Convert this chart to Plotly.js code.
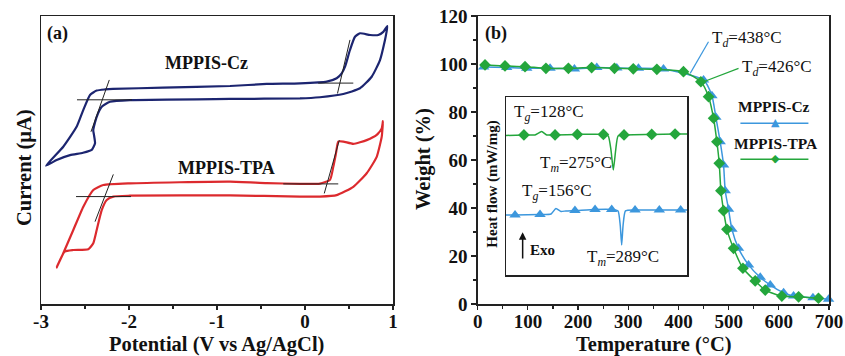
<!DOCTYPE html>
<html><head><meta charset="utf-8">
<script src="https://cdn.plot.ly/plotly-3.0.1.min.js"></script>
<style>html,body{margin:0;padding:0;background:#fff}#c{width:845px;height:356px}</style>
</head><body><div id="c"></div>
<script>
// ---- Panel (a): cyclic voltammograms (current in arbitrary units) ----
const cvCzV = [-2.943,-2.747,-2.594,-2.519,-2.443,-2.367,-2.273,-2.182,-1.614,-0.852,-0.435,-0.057,0.247,0.360,0.417,0.455,0.511,0.568,0.625,0.739,0.833,0.890,0.935,0.926,0.909,0.852,0.758,0.625,0.435,0.170,-0.057,-0.852,-1.989,-2.216,-2.310,-2.367,-2.406,-2.398,-2.386,-2.424,-2.523,-2.670,-2.822,-2.943];
const cvCzI = [48.0,54.6,61.6,67.4,72.6,74.1,74.5,74.7,75.1,75.7,76.4,76.6,77.2,78.4,80.1,82.4,88.2,92.8,94.0,93.4,93.4,94.5,96.5,94.4,91.7,84.7,78.9,74.9,72.9,71.8,71.4,71.2,70.8,70.2,68.5,65.0,60.4,58.7,55.8,53.5,52.5,51.7,50.0,48.0];
const cvTpaV = [-2.822,-2.747,-2.633,-2.519,-2.406,-2.292,-1.989,-0.852,-0.435,-0.057,0.170,0.284,0.322,0.352,0.378,0.435,0.549,0.701,0.815,0.872,0.886,0.881,0.872,0.815,0.701,0.549,0.360,0.170,-0.057,-0.852,-1.989,-2.178,-2.253,-2.310,-2.367,-2.406,-2.463,-2.633,-2.731,-2.822];
const cvTpaI = [12.7,17.6,25.7,33.8,39.6,41.3,41.9,42.5,42.0,41.7,41.8,43.1,47.7,52.3,56.4,56.4,55.6,56.9,58.7,61.0,63.5,61.1,58.1,51.1,45.4,40.7,37.8,37.3,37.3,37.7,37.6,37.3,36.1,32.6,25.7,21.1,19.0,18.75,18.2,12.7];
const tanCzV = [-2.591,-1.966,null,-2.224,-2.432,null,0.15,0.549,null,0.511,0.369];
const tanCzI = [70.9,70.9,null,77.8,59.8,null,76.7,76.7,null,91.7,73.1];
const tanTpaV = [-2.602,-1.977,null,-2.178,-2.386,null,-0.247,0.378,null,0.390,0.219];
const tanTpaI = [37.3,37.3,null,45.0,28.6,null,41.7,41.7,null,56.9,38.4];
const cvTicks = [-3,-2,-1,0,1];
const cvTickText = ['-3','-2','-1','0','1'];

// ---- Panel (b): TGA ----
const tgaCzT = [12,57.8,97.7,144.2,192.7,237.3,277.2,320.3,370.2,450,466.7,474.6,483.2,489.9,493.2,499.8,506.6,519.7,539.7,563,583,609.5,629.4,668,699.2];
const tgaCzW = [98.8,98.5,98.2,98.2,97.9,98.5,98.3,98.2,97.9,93.3,86.8,77.8,67.6,57.9,47.2,39.5,31.1,23.2,16.3,11.1,7.9,4.7,3.3,2.6,2.0];
const tgaTpaT = [14.6,54.4,94.3,136,180.7,227,272.5,310,357,410,444.7,460,470,476.6,481.3,484.6,489.9,496.6,509.8,528.5,553,573,606,639.4,679];
const tgaTpaW = [99.6,99.2,98.9,98.2,98.2,98.5,98.2,98.0,97.8,96.8,92.6,86.4,77.4,67.6,58.6,47.2,38.9,31.1,23.2,14.9,9.6,5.8,3.3,3.0,2.4];

// ---- Inset: DSC (arbitrary units) ----
const dscTpaX = [0,9.9,16.0,19.7,22.5,27.1,39.4,53.8,56.5,58.0,59.3,60.6,61.9,65.2,80.5,93.4,100];
const dscTpaY = [78.4,78.7,78.7,80.6,78.7,78.7,79.0,79.0,78.1,70.2,59.0,70.2,78.1,78.7,79.0,79.2,79.2];
const dscTpaMX = [9.9,27.1,39.4,53.8,65.2,80.5,93.4];
const dscTpaMY = [78.7,78.7,79.0,79.0,78.7,79.0,79.2];
const dscCzX = [0,5.0,18.8,24.9,27.6,30.4,33.1,38.1,49.2,58.4,61.9,63.1,63.9,64.7,66.0,71.3,84.7,96.5,100];
const dscCzY = [33.7,33.7,34.0,34.3,37.4,35.7,36.0,36.2,36.8,36.8,36.0,28.1,16.9,28.1,36.0,36.5,36.5,36.5,36.5];
const dscCzMX = [5.0,18.8,38.1,49.2,58.4,71.3,84.7,96.5];
const dscCzMY = [33.7,34.0,36.2,36.8,36.8,36.5,36.5,36.5];

const FF = '"Liberation Serif"';
const navy = '#1c2570', red = '#dc2a2e', blue = '#3c97dd', green = '#24a63c';

const traces = [
  {x: cvCzV, y: cvCzI, xaxis:'x', yaxis:'y', mode:'lines', line:{color:navy,width:2.2,shape:'spline',smoothing:0.5}, hoverinfo:'skip'},
  {x: cvTpaV, y: cvTpaI, xaxis:'x', yaxis:'y', mode:'lines', line:{color:red,width:2.2,shape:'spline',smoothing:0.5}, hoverinfo:'skip'},
  {x: tanCzV, y: tanCzI, xaxis:'x', yaxis:'y', mode:'lines', line:{color:'#222',width:1}},
  {x: tanTpaV, y: tanTpaI, xaxis:'x', yaxis:'y', mode:'lines', line:{color:'#222',width:1}},
  {x: tgaCzT, y: tgaCzW, xaxis:'x2', yaxis:'y2', mode:'lines+markers', cliponaxis:false, line:{color:blue,width:1.5,shape:'spline',smoothing:0.6}, marker:{symbol:'triangle-up',size:10,color:blue}},
  {x: tgaTpaT, y: tgaTpaW, xaxis:'x2', yaxis:'y2', mode:'lines+markers', cliponaxis:false, line:{color:green,width:1.5,shape:'spline',smoothing:0.6}, marker:{symbol:'diamond',size:9,color:green}},
  {x: dscTpaX, y: dscTpaY, xaxis:'x3', yaxis:'y3', mode:'lines', line:{color:green,width:1.5,shape:'spline',smoothing:0.5}},
  {x: dscTpaMX, y: dscTpaMY, xaxis:'x3', yaxis:'y3', mode:'markers', marker:{symbol:'diamond',size:9,color:green}},
  {x: dscCzX, y: dscCzY, xaxis:'x3', yaxis:'y3', mode:'lines', line:{color:blue,width:1.5,shape:'spline',smoothing:0.5}},
  {x: dscCzMX, y: dscCzMY, xaxis:'x3', yaxis:'y3', mode:'markers', marker:{symbol:'triangle-up',size:10,color:blue}}
];

const tickFont = {family:FF, size:19, color:'#111', weight:'bold'};
const axBase = {showgrid:false, zeroline:false, showline:true, linecolor:'#222', linewidth:1.5, mirror:true, tickfont:tickFont, tickcolor:'#222', tickwidth:1.2};

const ann = [];
function A(o){ ann.push(Object.assign({showarrow:false, xanchor:'center', yanchor:'middle', font:{family:FF,size:18,color:'#111',weight:'bold'}}, o)); }
const big = {family:FF,size:20.5,color:'#111',weight:'bold'};
// axis titles
A({xref:'paper',yref:'paper',x:24/845,y:1-168/356,text:'Current (μA)',textangle:-90,font:big});
A({xref:'paper',yref:'paper',x:216/845,y:1-344/356,text:'Potential (V vs Ag/AgCl)',font:big});
A({xref:'paper',yref:'paper',x:424/845,y:1-159/356,text:'Weight (%)',textangle:-90,font:big});
A({xref:'paper',yref:'paper',x:654/845,y:1-344/356,text:'Temperature (°C)',font:big});
// panel a labels
A({xref:'x',yref:'y',x:-2.955,y:94.0,xanchor:'left',text:'(a)'});
A({xref:'x',yref:'y',x:-1.125,y:83.6,text:'MPPIS-Cz'});
A({xref:'x',yref:'y',x:-0.89,y:47.1,text:'MPPIS-TPA'});
// panel b labels
A({xref:'x2',yref:'y2',x:10.6,y:112.9,xanchor:'left',text:'(b)'});
const reg = {family:FF,size:17,color:'#111'};
A({xref:'x2',yref:'y2',x:463,y:110.4,xanchor:'left',text:'T<sub><i>d</i></sub>=438°C',font:reg});
A({xref:'x2',yref:'y2',x:523,y:98.5,xanchor:'left',text:'T<sub><i>d</i></sub>=426°C',font:reg});
A({xref:'x2',yref:'y2',x:589.5,y:82.5,text:'MPPIS-Cz',font:{family:FF,size:15.5,color:'#111',weight:'bold'}});
A({xref:'x2',yref:'y2',x:595,y:67,text:'MPPIS-TPA',font:{family:FF,size:15.5,color:'#111',weight:'bold'}});
A({xref:'x2',yref:'y2',x:593,y:75.6,text:'▲',font:{family:'DejaVu Sans',size:11,color:blue}});
A({xref:'x2',yref:'y2',x:593,y:60.5,text:'◆',font:{family:'DejaVu Sans',size:11,color:green}});
// inset labels
A({xref:'x3',yref:'y3',x:3.1,y:90.8,xanchor:'left',text:'T<sub><i>g</i></sub>=128°C',font:reg});
A({xref:'x3',yref:'y3',x:17.8,y:62.4,xanchor:'left',text:'T<sub><i>m</i></sub>=275°C',font:reg});
A({xref:'x3',yref:'y3',x:7.7,y:46.8,xanchor:'left',text:'T<sub><i>g</i></sub>=156°C',font:reg});
A({xref:'x3',yref:'y3',x:43.6,y:9.4,xanchor:'left',text:'T<sub><i>m</i></sub>=289°C',font:reg});
A({xref:'x3',yref:'y3',x:20.4,y:14.0,text:'Exo',font:{family:FF,size:15,color:'#111',weight:'bold'}});
A({xref:'paper',yref:'paper',x:491.7/845,y:1-184/356,text:'Heat flow (mW/mg)',textangle:-90,font:{family:FF,size:15,color:'#111',weight:'bold'}});
ann.push({xref:'x3',yref:'y3',axref:'x3',ayref:'y3',x:9.2,y:24,ax:9.2,ay:8.4,text:'',showarrow:true,arrowhead:2,arrowsize:1,arrowwidth:1.5,arrowcolor:'#111'});

const shapes = [
  {type:'line',xref:'x2',yref:'y2',x0:423.4,y0:96.1,x1:459.9,y1:109.3,line:{color:blue,width:1.2}},
  {type:'line',xref:'x2',yref:'y2',x0:442.2,y0:92.0,x1:519.7,y1:98.2,line:{color:green,width:1.2}},
  {type:'line',xref:'x2',yref:'y2',x0:523.5,y0:75.3,x1:659,y1:75.3,line:{color:blue,width:1.5}},
  {type:'line',xref:'x2',yref:'y2',x0:523.5,y0:60.3,x1:659,y1:60.3,line:{color:green,width:1.5}}
];

const layout = {
  width:845, height:356, margin:{l:0,r:0,t:0,b:0}, showlegend:false,
  font:{family:FF},
  paper_bgcolor:'#fff', plot_bgcolor:'rgba(0,0,0,0)',
  xaxis: Object.assign({}, axBase, {domain:[41/845,393/845], range:[-3,1], anchor:'y', tickvals:cvTicks, ticktext:cvTickText, ticks:'outside', ticklen:4, ticklabelstandoff:-4, minor:{dtick:0.5, ticks:'outside', ticklen:3, tickcolor:'#222'}}),
  yaxis: Object.assign({}, axBase, {domain:[52/356,340/356], range:[0,100], anchor:'x', showticklabels:false, ticks:''}),
  xaxis2: Object.assign({}, axBase, {domain:[477.7/845,829/845], range:[0,700], anchor:'y2', dtick:100, ticks:'outside', ticklen:4, ticklabelstandoff:-4, minor:{dtick:50, ticks:'outside', ticklen:3, tickcolor:'#222'}}),
  yaxis2: Object.assign({}, axBase, {domain:[52/356,340/356], range:[0,120], anchor:'x2', dtick:20, ticks:'outside', ticklen:5, minor:{dtick:10, ticks:'outside', ticklen:3, tickcolor:'#222'}}),
  xaxis3: {domain:[506/845,687/845], range:[0,100], anchor:'y3', showgrid:false, zeroline:false, showline:true, mirror:true, linecolor:'#222', linewidth:1.5, showticklabels:false, ticks:''},
  yaxis3: {domain:[81/356,259/356], range:[0,100], anchor:'x3', showgrid:false, zeroline:false, showline:true, mirror:true, linecolor:'#222', linewidth:1.5, showticklabels:false, ticks:''},
  annotations: ann, shapes: shapes
};
Plotly.newPlot('c', traces, layout, {staticPlot:true, displayModeBar:false});
</script></body></html>
